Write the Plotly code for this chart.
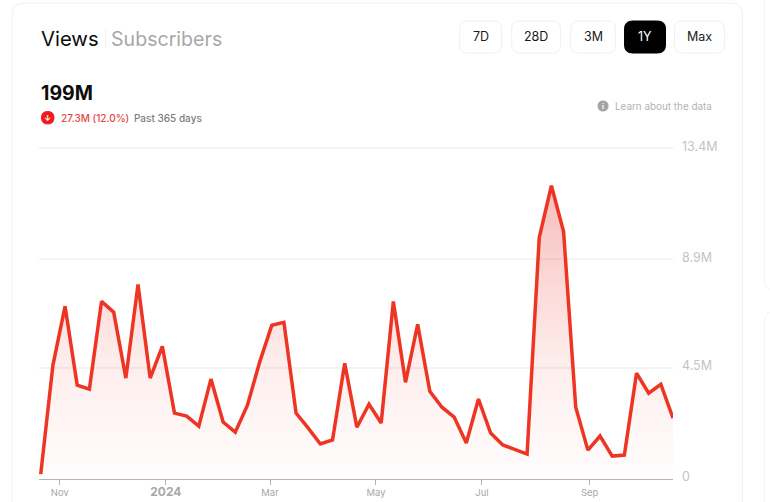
import plotly.graph_objects as go

# Weekly views (millions)
dates = ["2023-10-21","2023-10-28","2023-11-04","2023-11-11","2023-11-18","2023-11-25","2023-12-02","2023-12-09","2023-12-16","2023-12-23","2023-12-30",
"2024-01-06","2024-01-13","2024-01-20","2024-01-27","2024-02-03","2024-02-10","2024-02-17","2024-02-24","2024-03-02","2024-03-09","2024-03-16","2024-03-23","2024-03-30",
"2024-04-06","2024-04-13","2024-04-20","2024-04-27","2024-05-04","2024-05-11","2024-05-18","2024-05-25","2024-06-01","2024-06-08","2024-06-15","2024-06-22","2024-06-29",
"2024-07-06","2024-07-13","2024-07-20","2024-07-27","2024-08-03","2024-08-10","2024-08-17","2024-08-24","2024-08-31","2024-09-07","2024-09-14","2024-09-21","2024-09-28","2024-10-05","2024-10-12","2024-10-19"]
views = [0.20,4.61,7.00,3.80,3.64,7.20,6.76,4.09,7.89,4.09,5.38,2.67,2.55,2.14,4.05,2.31,1.90,2.99,4.73,6.23,6.35,2.67,2.06,1.42,1.58,4.69,2.10,3.03,2.27,7.20,3.92,6.27,3.56,2.91,2.51,1.46,3.24,1.86,1.38,1.21,1.01,9.79,11.89,10.03,2.91,1.17,1.74,0.93,0.97,4.29,3.48,3.84,2.47]
y_ticks = [0, 4.5, 8.9, 13.4]
y_labels = ["0", "4.5M", "8.9M", "13.4M"]
x_ticks = ["2023-11-01", "2024-01-01", "2024-03-01", "2024-05-01", "2024-07-01", "2024-09-01"]
x_labels = ["Nov", "<span style='font-size:12px'><b>2024</b></span>", "Mar", "May", "Jul", "Sep"]
ranges = ["7D", "28D", "3M", "1Y", "Max"]

W, H = 770, 502
L, R, T, B = 39, 96.5, 146, 23
FONT = "Inter"
def px(x): return (x - L) / (W - L - R)
def py(y): return 1 - (y - T) / (H - T - B)

def rrect(x0, y0, x1, y1, r):
    return (f"M{px(x0+r)},{py(y0)} L{px(x1-r)},{py(y0)} Q{px(x1)},{py(y0)} {px(x1)},{py(y0+r)} "
            f"L{px(x1)},{py(y1-r)} Q{px(x1)},{py(y1)} {px(x1-r)},{py(y1)} "
            f"L{px(x0+r)},{py(y1)} Q{px(x0)},{py(y1)} {px(x0)},{py(y1-r)} "
            f"L{px(x0)},{py(y0+r)} Q{px(x0)},{py(y0)} {px(x0+r)},{py(y0)} Z")

shapes = []
annotations = []
def box(x0, y0, x1, y1, r, fill, line, layer="below", width=1):
    shapes.append(dict(type="path", xref="paper", yref="paper", path=rrect(x0, y0, x1, y1, r),
                       fillcolor=fill, line=dict(color=line, width=width), layer=layer))
def text(x, y, s, size, color, anchor="left", weight=400):
    annotations.append(dict(xref="paper", yref="paper", x=px(x), y=py(y), text=s, showarrow=False,
                            xanchor=anchor, yanchor="middle",
                            font=dict(family=FONT, size=size, color=color, weight=weight),
                            borderpad=0, borderwidth=0))

# cards
box(12, 3, 743, 560, 12, "#ffffff", "#f1f1f1")
box(765, -30, 820, 290, 10, "#ffffff", "#f3f3f3")
box(765, 312, 820, 560, 10, "#ffffff", "#f3f3f3")

# header
text(41, 38.5, "Views", 20.3, "#0d0d0d")
text(111, 38.5, "Subscribers", 19.6, "#a8a8a8")
shapes.append(dict(type="line", xref="paper", yref="paper", x0=px(105.5), x1=px(105.5), y0=py(29), y1=py(48),
                   line=dict(color="#f2f2f2", width=1), layer="below"))
text(41, 93, "199M", 19.5, "#0d0d0d", weight=700)
box(41.5, 111.5, 54, 124, 6.2, "#ee1c1c", "#ee1c1c")
text(47.8, 117.5, "<b>↓</b>", 8, "#ffffff", "center")
text(61, 118, "27.3M (12.0%)", 10, "#e5483c", weight=500)
text(134.5, 118, "Past 365 days", 10, "#7d7d7d", weight=500)

# buttons
btns = [(460, 502), (512, 561), (571, 616), (625, 666), (675, 725)]
for (x0, x1), lab in zip(btns, ranges):
    on = lab == "1Y"
    box(x0, 21, x1, 53, 8, "#000000" if on else "#ffffff", "#000000" if on else "#f0f0f0")
    text((x0 + x1) / 2, 37, lab, 12.5, "#ffffff" if on else "#1a1a1a", "center")

# learn about the data
box(598.5, 101, 608.5, 111, 5, "#a3a3a3", "#a3a3a3")
text(603.5, 106, "<b>i</b>", 7, "#ffffff", "center")
text(615, 106.5, "Learn about the data", 9.9, "#b3b3b3")

fig = go.Figure(go.Scatter(
    x=dates, y=views, mode="lines",
    line=dict(color="#ee3524", width=3.5, shape="linear"),
    fill="tozeroy",
    fillgradient=dict(type="vertical", colorscale=[[0, "rgba(238,60,45,0.01)"], [0.4, "rgba(238,60,45,0.09)"], [1, "rgba(225,50,45,0.32)"]]),
    hoverinfo="skip",
))
fig.update_layout(
    width=W, height=H, autosize=False,
    margin=dict(l=L, r=R, t=T, b=B, pad=0),
    paper_bgcolor="#ffffff", plot_bgcolor="rgba(0,0,0,0)",
    showlegend=False, shapes=shapes, annotations=annotations,
    font=dict(family=FONT),
    xaxis=dict(type="date", range=["2023-10-20", "2024-10-19"], tickvals=x_ticks, ticktext=x_labels,
               automargin=False, ticks="outside", ticklen=5, tickcolor="#b5b5b5", tickwidth=1,
               showgrid=False, showline=True, linecolor="#b5b5b5", linewidth=1, zeroline=False,
               tickangle=0, tickfont=dict(family=FONT, size=9.5, color="#a8a8a8")),
    yaxis=dict(side="right", range=[0, 13.5], tickvals=y_ticks, ticktext=y_labels, showline=False, automargin=False,
               gridcolor="#f3f3f3", gridwidth=2, zeroline=False, ticks="", ticklabelstandoff=8, ticklabelshift=-2,
               tickfont=dict(family=FONT, size=12.5, color="#c4c4c4")),
)
fig.write_html("out.html", config=dict(displayModeBar=False),
               post_script="document.body.style.margin='0';")
